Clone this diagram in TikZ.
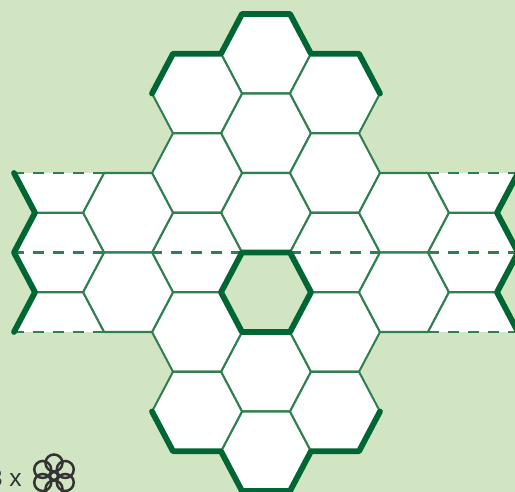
\documentclass[tikz,border=0pt]{standalone}
\usepackage{fontspec}
\setmainfont{Liberation Sans}
\definecolor{paleleaf}{HTML}{D2E5C3}
\definecolor{darkleaf}{HTML}{006633}
\definecolor{midleaf}{HTML}{2F7F50}
\definecolor{petalgray}{HTML}{333333}
\begin{document}
\begin{tikzpicture}[x=0.02cm, y=-0.02cm,
    hexcell/.style={draw=midleaf, fill=white, line width=1.15pt, line join=round},
    rimline/.style={draw=darkleaf, line width=3.3pt, line join=round, line cap=round},
    foldline/.style={draw=midleaf, line width=1.5pt, dash pattern=on 6pt off 5.4pt},
    petal/.style={draw=petalgray, line width=1.4pt}]
  \useasboundingbox (0,0) rectangle (515,492);
  \fill[paleleaf] (0,0) rectangle (515,492);
  \clip (0,0) rectangle (515,492);

  % Full cells, by column
  \foreach \cx/\cy in {266/53.75, 266/133.25, 266/212.75, 266/371.75, 266/451.25,
                       197/93.5, 197/173, 197/252.5, 197/332, 197/411.5,
                       335/93.5, 335/173, 335/252.5, 335/332, 335/411.5,
                       128/212.75, 128/292.25, 404/212.75, 404/292.25,
                       59/252.5, 473/252.5} {
    \draw[hexcell] (\cx-45,\cy) -- (\cx-24,\cy-39.75) -- (\cx+24,\cy-39.75)
      -- (\cx+45,\cy) -- (\cx+24,\cy+39.75) -- (\cx-24,\cy+39.75) -- cycle;
  }

  % Half cells at the two sides
  \foreach \cx in {59, 473} {
    \fill[white] (\cx-45,173) -- (\cx+45,173) -- (\cx+24,212.75) -- (\cx-24,212.75) -- cycle;
    \fill[white] (\cx-45,332) -- (\cx+45,332) -- (\cx+24,292.25) -- (\cx-24,292.25) -- cycle;
    \draw[hexcell, fill=none] (\cx-45,173) -- (\cx-24,212.75) -- (\cx+24,212.75) -- (\cx+45,173);
    \draw[hexcell, fill=none] (\cx-45,332) -- (\cx-24,292.25) -- (\cx+24,292.25) -- (\cx+45,332);
  }

  % Fold lines
  \foreach \ya in {173, 252.5, 332} {
    \draw[foldline] (104,\ya) -- (14,\ya);
    \draw[foldline] (428,\ya) -- (518,\ya);
  }
  \draw[foldline] (242,252.5) -- (152,252.5);
  \draw[foldline] (290,252.5) -- (380,252.5);

  % Open cell in the middle
  \draw[rimline, fill=paleleaf] (221,292.25) -- (242,252.5) -- (290,252.5)
    -- (311,292.25) -- (290,332) -- (242,332) -- cycle;

  % Thick rim
  \draw[rimline] (152,93.5) -- (173,53.75) -- (221,53.75) -- (242,14) -- (290,14)
    -- (311,53.75) -- (359,53.75) -- (380,93.5);
  \draw[rimline] (152,411.5) -- (173,451.25) -- (221,451.25) -- (242,491) -- (290,491)
    -- (311,451.25) -- (359,451.25) -- (380,411.5);
  \draw[rimline] (14,173) -- (35,212.75) -- (14,252.5) -- (35,292.25) -- (14,332);
  \draw[rimline] (518,173) -- (497,212.75) -- (518,252.5) -- (497,292.25) -- (518,332);

  % Count and flower
  \node[font=\fontsize{14pt}{14pt}\selectfont, text=petalgray, anchor=base east,
        inner sep=0pt] (countlabel) at (22,487) {3 x};
  \foreach \ang in {90, 150, 210, 270, 330, 30} {
    \draw[petal] (54,476)+(\ang:13) circle (8.5);
  }
  \draw[petal] (54,476) circle (4);
\end{tikzpicture}
\end{document}
